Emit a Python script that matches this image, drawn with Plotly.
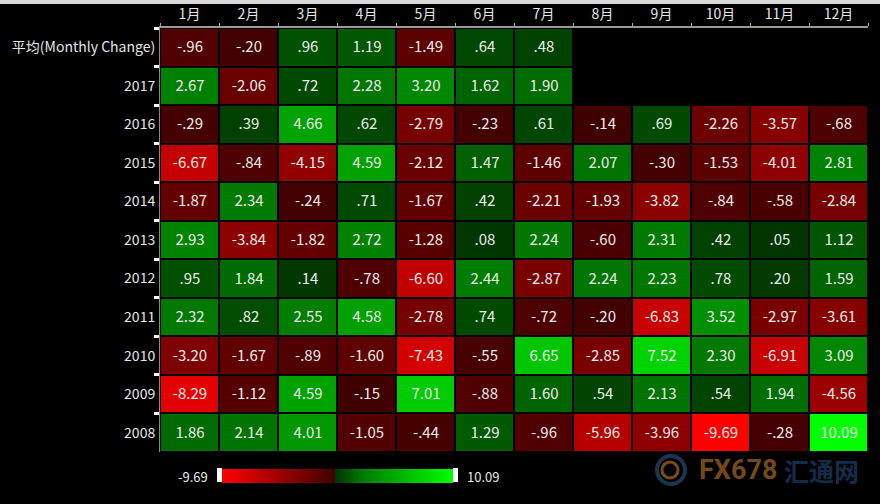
import plotly.graph_objects as go

months = ["1月", "2月", "3月", "4月", "5月", "6月", "7月", "8月", "9月", "10月", "11月", "12月"]
rows = ["平均(Monthly Change)", "2017", "2016", "2015", "2014", "2013", "2012", "2011", "2010", "2009", "2008"]

NA = None
avg_row = [-0.96, -0.20, 0.96, 1.19, -1.49, 0.64, 0.48, NA, NA, NA, NA, NA]
y2017 = [2.67, -2.06, 0.72, 2.28, 3.20, 1.62, 1.90, NA, NA, NA, NA, NA]
y2016 = [-0.29, 0.39, 4.66, 0.62, -2.79, -0.23, 0.61, -0.14, 0.69, -2.26, -3.57, -0.68]
y2015 = [-6.67, -0.84, -4.15, 4.59, -2.12, 1.47, -1.46, 2.07, -0.30, -1.53, -4.01, 2.81]
y2014 = [-1.87, 2.34, -0.24, 0.71, -1.67, 0.42, -2.21, -1.93, -3.82, -0.84, -0.58, -2.84]
y2013 = [2.93, -3.84, -1.82, 2.72, -1.28, 0.08, 2.24, -0.60, 2.31, 0.42, 0.05, 1.12]
y2012 = [0.95, 1.84, 0.14, -0.78, -6.60, 2.44, -2.87, 2.24, 2.23, 0.78, 0.20, 1.59]
y2011 = [2.32, 0.82, 2.55, 4.58, -2.78, 0.74, -0.72, -0.20, -6.83, 3.52, -2.97, -3.61]
y2010 = [-3.20, -1.67, -0.89, -1.60, -7.43, -0.55, 6.65, -2.85, 7.52, 2.30, -6.91, 3.09]
y2009 = [-8.29, -1.12, 4.59, -0.15, 7.01, -0.88, 1.60, 0.54, 2.13, 0.54, 1.94, -4.56]
y2008 = [1.86, 2.14, 4.01, -1.05, -0.44, 1.29, -0.96, -5.96, -3.96, -9.69, -0.28, 10.09]

z = [avg_row, y2017, y2016, y2015, y2014, y2013, y2012, y2011, y2010, y2009, y2008]

zmin = min(v for r in z for v in r if v is not None)
zmax = max(v for r in z for v in r if v is not None)


def fmt(v):
    if v is None:
        return ""
    s = f"{abs(v):.2f}"
    if s.startswith("0"):
        s = s[1:]
    return ("-" if v < 0 else "") + s


text = [[fmt(v) for v in r] for r in z]

rng = zmax - zmin
p0 = (0 - zmin) / rng


def pos(v):
    return (v - zmin) / rng


colorscale = [
    [0.0, "rgb(255,0,0)"],
    [p0 * 0.5, "rgb(160,0,0)"],
    [p0, "rgb(62,0,0)"],
    [p0, "rgb(0,52,0)"],
    [pos(2.34), "rgb(0,122,0)"],
    [pos(6.65), "rgb(0,198,0)"],
    [1.0, "rgb(0,255,0)"],
]

W, H = 880, 504
ml, mr, mt, mb = 160, 12, 28, 52
pw, ph = W - ml - mr, H - mt - mb


def px(x):
    return (x - ml) / pw


def py(y):
    return (H - mb - y) / ph


cb_left, cb_right, cb_y = 222, 453, 476

fig = go.Figure(
    go.Heatmap(
        z=z,
        x=months,
        y=rows,
        text=text,
        texttemplate="%{text}",
        textfont=dict(color="#ececec", size=15, family="Noto Sans CJK SC"),
        colorscale=colorscale,
        zmin=zmin,
        zmax=zmax,
        xgap=2,
        ygap=2,
        hoverongaps=False,
        colorbar=dict(
            orientation="h",
            x=px((cb_left + cb_right) / 2),
            xanchor="center",
            y=py(cb_y),
            yanchor="middle",
            len=cb_right - cb_left,
            lenmode="pixels",
            thickness=14,
            thicknessmode="pixels",
            showticklabels=False,
            ticks="",
            outlinewidth=0,
            xpad=0,
            ypad=0,
        ),
    )
)

fig.update_layout(
    width=W,
    height=H,
    margin=dict(l=ml, r=mr, t=mt, b=mb, autoexpand=False),
    paper_bgcolor="black",
    plot_bgcolor="black",
    font=dict(family="Noto Sans CJK SC", color="#e6e6e6", size=14),
    xaxis=dict(
        side="top",
        automargin=False,
        tickson="boundaries",
        ticks="outside",
        ticklen=3,
        tickcolor="#aaaaaa",
        showline=True,
        linecolor="#9a9a9a",
        linewidth=2,
        showgrid=False,
        zeroline=False,
        tickfont=dict(size=14, color="#e6e6e6"),
        ticklabelstandoff=1,
        fixedrange=True,
    ),
    yaxis=dict(
        autorange="reversed",
        automargin=False,
        tickson="boundaries",
        ticks="outside",
        ticklen=5,
        tickwidth=3,
        tickcolor="white",
        showline=True,
        linecolor="#8a8a8a",
        linewidth=1,
        showgrid=False,
        zeroline=False,
        tickfont=dict(size=14, color="#e6e6e6"),
        ticklabelstandoff=1,
    ),
    annotations=[
        dict(x=px(cb_left - 12), y=py(cb_y), xref="paper", yref="paper", text=f"{zmin:.2f}",
             showarrow=False, xanchor="right", yanchor="middle",
             font=dict(size=13, color="#e6e6e6")),
        dict(x=px(cb_right + 12), y=py(cb_y), xref="paper", yref="paper", text=f"{zmax:.2f}",
             showarrow=False, xanchor="left", yanchor="middle",
             font=dict(size=13, color="#e6e6e6")),
        dict(x=px(697), y=py(470), xref="paper", yref="paper", text="<b>FX678</b>",
             showarrow=False, xanchor="left", yanchor="middle",
             font=dict(size=27, color="#74491a", family="Liberation Sans Narrow, Roboto")),
        dict(x=px(782), y=py(470), xref="paper", yref="paper", text="<b>汇通网</b>",
             showarrow=False, xanchor="left", yanchor="middle",
             font=dict(size=25, color="#142c48", family="Noto Sans CJK SC")),
    ],
    shapes=[
        dict(type="rect", xref="paper", yref="paper", x0=px(0), x1=px(W), y0=py(0), y1=py(4),
             fillcolor="#d8d8d8", line=dict(width=0), layer="above"),
        dict(type="rect", xref="paper", yref="paper", x0=px(cb_left - 5), x1=px(cb_left), y0=py(cb_y - 8), y1=py(cb_y + 6),
             fillcolor="white", line=dict(width=0)),
        dict(type="rect", xref="paper", yref="paper", x0=px(cb_right), x1=px(cb_right + 5), y0=py(cb_y - 8), y1=py(cb_y + 6),
             fillcolor="white", line=dict(width=0)),
        dict(type="circle", xref="paper", yref="paper", x0=px(657), x1=px(685), y0=py(456), y1=py(484),
             line=dict(color="#1c3452", width=4)),
        dict(type="circle", xref="paper", yref="paper", x0=px(662), x1=px(678), y0=py(462), y1=py(478),
             line=dict(color="#7a4a18", width=3)),
    ],
)

fig.write_html("out.html")
